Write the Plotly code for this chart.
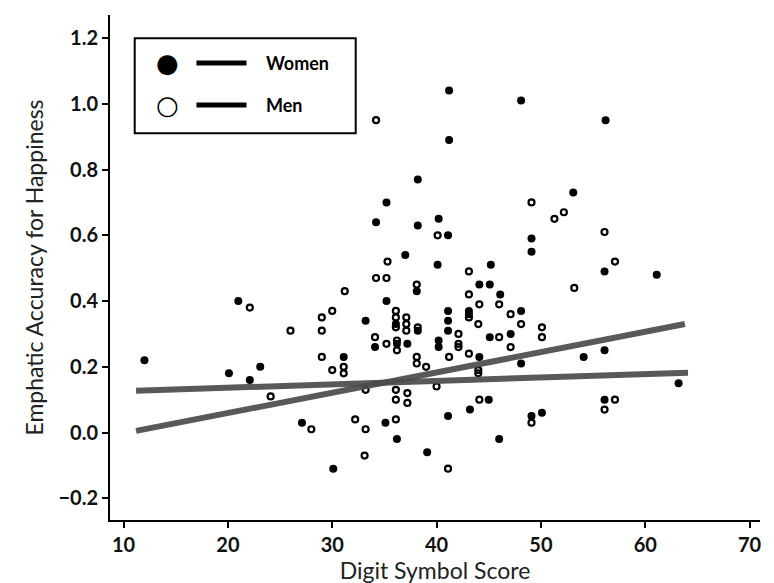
import plotly.graph_objects as go

# values
women_x = [35.2, 41.2, 48.1, 56.2, 41.2, 38.2, 53.1, 34.2, 37.0, 35.2, 21.0, 33.2, 36.1, 36.2,
           38.2, 40.2, 41.1, 49.1, 49.1, 40.1, 45.2, 56.1, 61.1, 44.1, 45.1, 38.1, 46.1, 48.1,
           41.1, 43.1, 43.1, 38.2, 41.1, 41.1, 45.1, 47.1, 40.2, 40.2, 56.1, 37.2, 44.1, 48.1,
           54.1, 45.0, 43.2, 41.1, 35.1, 36.2, 39.1, 46.0, 49.1, 50.1, 56.1, 63.2, 12.0, 23.1,
           31.1, 20.1, 22.1, 27.1, 30.1, 34.1]
women_y = [0.70, 1.04, 1.01, 0.95, 0.89, 0.77, 0.73, 0.64, 0.54, 0.40, 0.40, 0.34, 0.33, 0.27,
           0.63, 0.65, 0.60, 0.59, 0.55, 0.51, 0.51, 0.49, 0.48, 0.45, 0.45, 0.43, 0.42, 0.37,
           0.37, 0.37, 0.36, 0.31, 0.34, 0.31, 0.29, 0.30, 0.28, 0.26, 0.25, 0.27, 0.23, 0.21,
           0.23, 0.10, 0.07, 0.05, 0.03, -0.02, -0.06, -0.02, 0.05, 0.06, 0.10, 0.15, 0.22, 0.20,
           0.23, 0.18, 0.16, 0.03, -0.11, 0.26]

men_x = [34.2, 49.1, 52.2, 51.3, 35.3, 34.2, 35.2, 31.2, 22.1, 30.0, 29.0, 36.1, 36.1, 36.1,
         26.0, 29.0, 34.1, 35.2, 36.2, 36.2, 40.1, 56.1, 43.1, 57.1, 53.2, 38.1, 43.1, 46.0,
         44.1, 47.1, 43.1, 37.1, 37.1, 37.1, 38.2, 44.0, 48.1, 50.1, 50.1, 42.1, 46.0, 47.1,
         42.1, 42.1, 43.1, 41.2, 38.1, 38.1, 39.0, 44.0, 44.0, 40.0, 36.1, 36.1, 37.2, 37.2,
         44.1, 36.1, 41.1, 49.1, 56.1, 57.1, 29.0, 30.0, 31.1, 31.1, 24.1, 33.2, 28.0, 32.2,
         33.2, 33.1]
men_y = [0.95, 0.70, 0.67, 0.65, 0.52, 0.47, 0.47, 0.43, 0.38, 0.37, 0.35, 0.37, 0.35, 0.32,
         0.31, 0.31, 0.29, 0.27, 0.28, 0.25, 0.60, 0.61, 0.49, 0.52, 0.44, 0.45, 0.42, 0.39,
         0.39, 0.36, 0.35, 0.35, 0.33, 0.31, 0.32, 0.33, 0.33, 0.32, 0.29, 0.30, 0.29, 0.26,
         0.27, 0.26, 0.24, 0.23, 0.23, 0.21, 0.20, 0.19, 0.18, 0.14, 0.13, 0.10, 0.12, 0.09,
         0.10, 0.04, -0.11, 0.03, 0.07, 0.10, 0.23, 0.19, 0.20, 0.18, 0.11, 0.13, 0.01, 0.04,
         0.01, -0.07]

# fitted regression lines (end points)
women_fit_x = [11.2, 63.8]
women_fit_y = [0.005, 0.330]
men_fit_x = [11.2, 64.1]
men_fit_y = [0.127, 0.182]

y_ticks = [-0.2, 0.0, 0.2, 0.4, 0.6, 0.8, 1.0, 1.2]
x_ticks = [10, 20, 30, 40, 50, 60, 70]

font = "Lato, 'Open Sans', sans-serif"
line_col = "rgba(75,75,75,0.92)"

fig = go.Figure()
fig.add_trace(go.Scatter(x=women_x, y=women_y, mode="markers", name="Women",
                         marker=dict(symbol="circle", size=8, color="black")))
fig.add_trace(go.Scatter(x=men_x, y=men_y, mode="markers", name="Men",
                         marker=dict(symbol="circle-open", size=6, color="black",
                                     line=dict(width=2.2, color="black"))))
fig.add_trace(go.Scatter(x=women_fit_x, y=women_fit_y, mode="lines", name="Women fit",
                         line=dict(color=line_col, width=6)))
fig.add_trace(go.Scatter(x=men_fit_x, y=men_fit_y, mode="lines", name="Men fit",
                         line=dict(color=line_col, width=6)))

# hand-made legend box: marker, line, label
fig.add_shape(type="rect", xref="paper", yref="paper", x0=0.038, x1=0.378, y0=0.766, y1=0.954,
              line=dict(color="black", width=2), fillcolor="white", layer="above")
for yy, label, sym in [(0.905, "Women", "●"), (0.822, "Men", "○")]:
    fig.add_annotation(xref="paper", yref="paper", x=0.089, y=yy, text=sym, showarrow=False,
                       xanchor="center", yanchor="middle",
                       font=dict(size=26, color="black", family="DejaVu Sans"))
    fig.add_shape(type="line", xref="paper", yref="paper", x0=0.133, x1=0.21, y0=yy, y1=yy,
                  line=dict(color="black", width=5), layer="above")
    fig.add_annotation(xref="paper", yref="paper", x=0.237, y=yy, text=label, showarrow=False,
                       xanchor="left", yanchor="middle",
                       font=dict(size=18, color="black", family=font, weight="bold"))

fig.update_layout(
    width=774, height=583,
    margin=dict(l=102, r=22, t=7, b=71),
    paper_bgcolor="white", plot_bgcolor="white",
    showlegend=False,
    font=dict(family=font, color="#222"),
)
fig.update_xaxes(range=[8.7, 71.0], tickvals=x_ticks, ticks="outside", ticklen=6,
                 tickwidth=1.5, tickcolor="black", showline=True, linecolor="black",
                 linewidth=2, showgrid=False, zeroline=False,
                 tickfont=dict(size=20, family=font, weight="bold", color="#111"),
                 title=dict(text="Digit Symbol Score", font=dict(size=23, family=font), standoff=6))
fig.update_yaxes(range=[-0.266, 1.27], tickvals=y_ticks, tickformat=".1f", ticks="outside",
                 ticklen=6, tickwidth=1.5, tickcolor="black", showline=True, linecolor="black",
                 linewidth=2, showgrid=False, zeroline=False,
                 tickfont=dict(size=20, family=font, weight="bold", color="#111"),
                 title=dict(text="Emphatic Accuracy for Happiness", font=dict(size=23, family=font),
                            standoff=8))

fig.write_html("out.html")
